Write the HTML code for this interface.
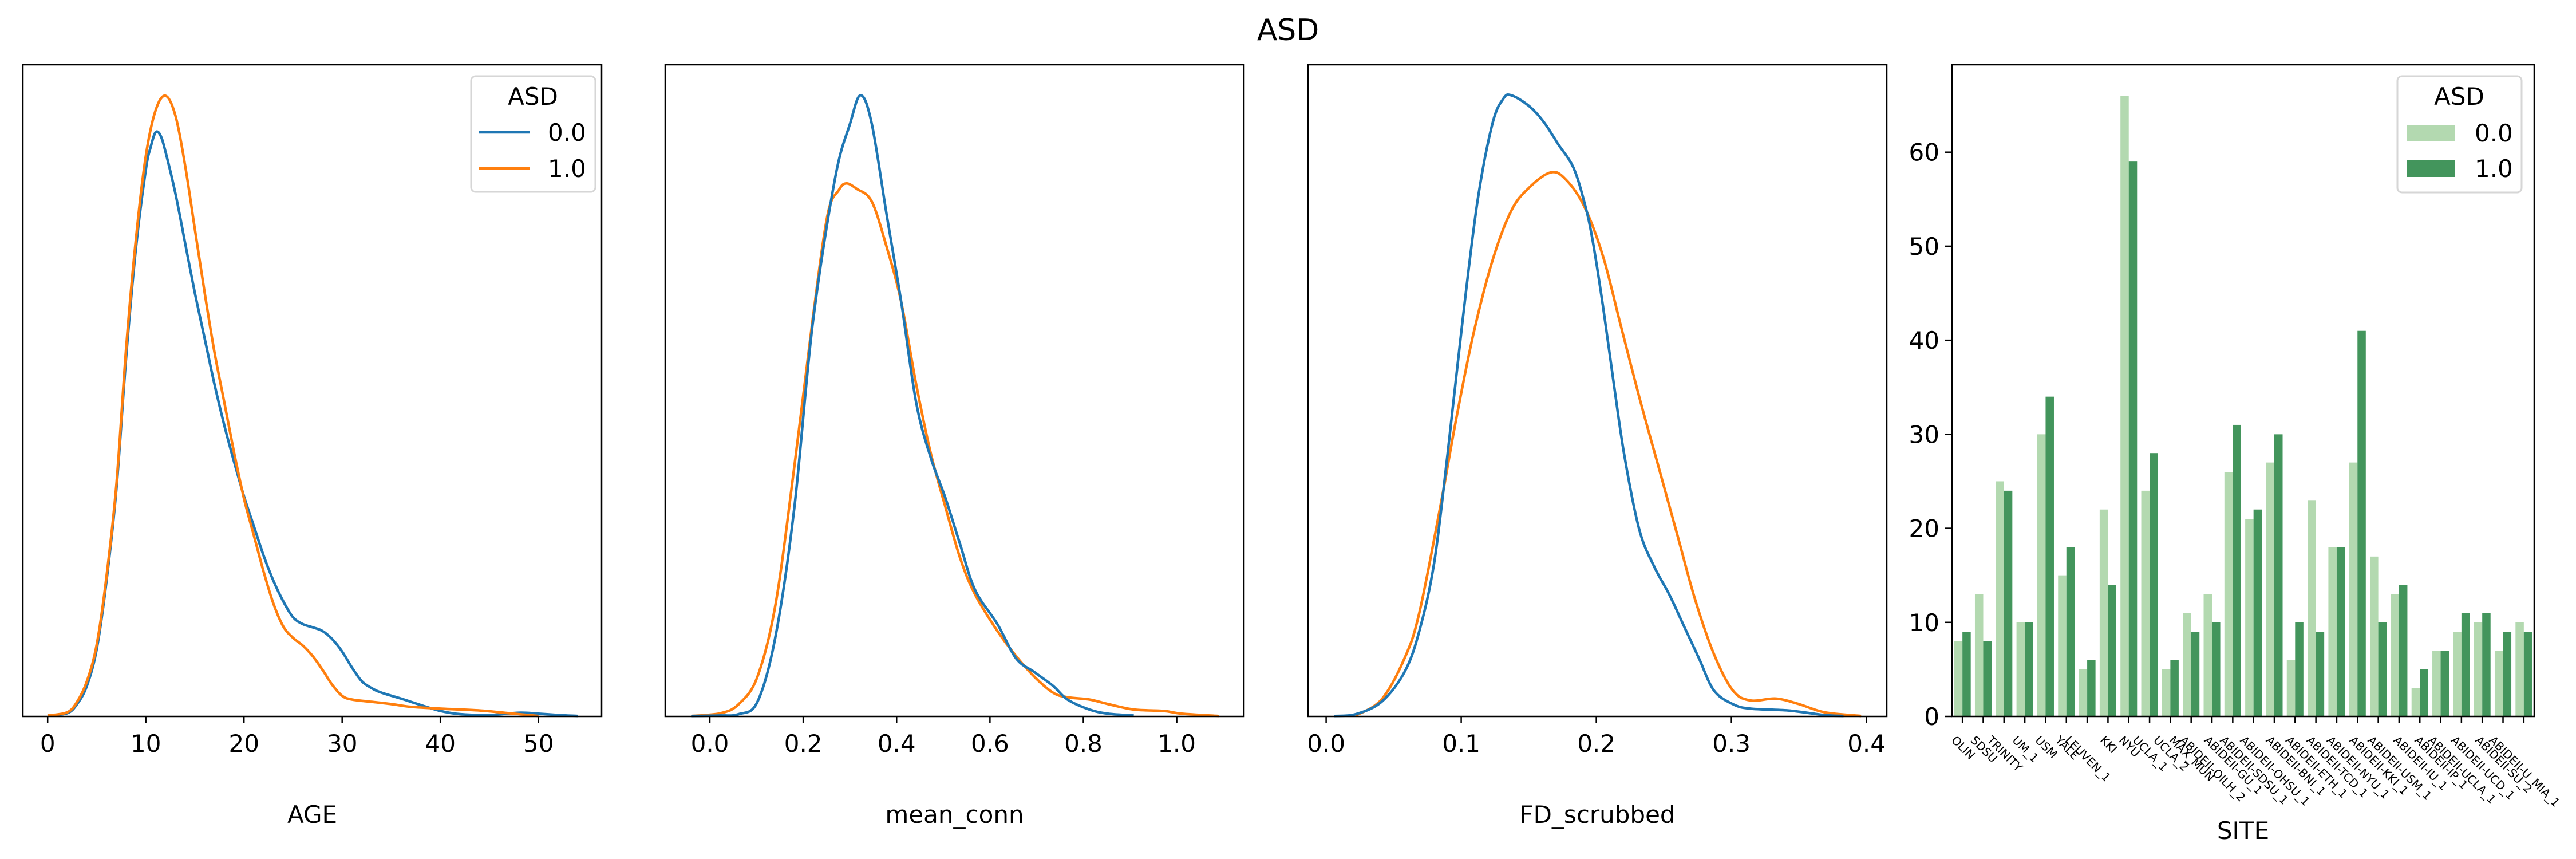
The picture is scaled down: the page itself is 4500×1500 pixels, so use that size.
<!DOCTYPE html>
<html><head><meta charset="utf-8">
<style>
html,body{margin:0;padding:0;background:#fff;}
svg{display:block;font-family:"DejaVu Sans","Liberation Sans",sans-serif;}
</style></head>
<body>
<svg id="fig" width="4500" height="1500" viewBox="0 0 4500 1500" xmlns="http://www.w3.org/2000/svg">
<rect width="4500" height="1500" fill="#fff"/>
<text x="2250" y="70" font-size="52" text-anchor="middle">ASD</text>
<g id="p1"></g>
<g id="p2"></g>
<g id="p3"></g>
<g id="p4"></g>
</svg>
<script>
// ---- data: AGE KDE (relative density) ----
const ageX0 = [0,2,3,4,5,6,7,8,9,10,10.5,11,11.5,12,13,14,15,16,17,18,19,20,21,22,23,24,25,26,27,28,29,30,31,32,33,34,36,38,40,42,45,48,50,52,54];
const ageY0 = [2,7,27,67,147,297,497,787,1027,1197,1247,1279,1272,1237,1147,1037,927,827,727,637,557,482,417,352,297,252,217,202,195,187,169,142,107,77,62,52,39,25,12,5,3,8,6,3,1];
const ageX1 = [0,2,3,4,5,6,7,8,9,10,11,12,13,14,15,16,17,18,19,20,21,22,23,24,25,26,27,28,29,30,31,33,35,37,40,44,47,50];
const ageY1 = [2,9,32,77,157,307,507,807,1047,1227,1327,1359,1317,1207,1067,927,797,687,577,477,397,317,247,197,172,155,132,102,69,45,37,32,27,21,17,13,7,1];
// ---- data: mean_conn KDE ----
const mcX0 = [-0.04,0.02,0.062,0.102,0.141,0.181,0.22,0.268,0.3,0.323,0.347,0.379,0.41,0.442,0.473,0.505,0.536,0.568,0.616,0.656,0.695,0.735,0.766,0.813,0.853,0.908];
const mcY0 = [1,2,5,32,177,457,857,1177,1297,1360,1297,1097,907,687,567,477,377,277,202,127,97,67,37,15,6,2];
const mcX1 = [-0.04,0.023,0.062,0.102,0.141,0.181,0.22,0.252,0.276,0.292,0.315,0.347,0.379,0.41,0.442,0.473,0.505,0.536,0.568,0.616,0.656,0.695,0.735,0.766,0.813,0.853,0.908,0.972,1.011,1.09];
const mcY1 = [1,7,27,87,247,547,867,1097,1152,1167,1155,1127,1027,907,727,577,457,347,267,187,132,87,52,42,37,27,15,12,6,1];
// ---- data: FD_scrubbed KDE ----
const fdX0 = [0.006,0.022,0.041,0.058,0.069,0.08,0.09,0.101,0.112,0.123,0.131,0.137,0.15,0.161,0.172,0.183,0.191,0.197,0.205,0.213,0.221,0.232,0.243,0.254,0.265,0.276,0.287,0.301,0.314,0.342,0.369,0.383];
const fdY0 = [1,5,32,97,187,337,577,867,1127,1297,1352,1360,1337,1302,1252,1202,1127,1047,897,727,567,407,327,267,197,127,57,27,17,13,3,1];
const fdX1 = [0.022,0.041,0.058,0.069,0.085,0.096,0.109,0.123,0.137,0.15,0.166,0.177,0.191,0.205,0.218,0.232,0.246,0.26,0.273,0.287,0.301,0.314,0.333,0.35,0.369,0.396];
const fdY1 = [2,37,127,227,467,647,837,997,1107,1157,1191,1177,1117,1007,857,697,547,397,257,137,57,35,39,27,9,1];
// ---- data: SITE counts ----
const sites = ["OLIN","SDSU","TRINITY","UM_1","USM","YALE","LEUVEN_1","KKI","NYU","UCLA_1","UCLA_2","MAX_MUN","ABIDEII-OILH_2","ABIDEII-GU_1","ABIDEII-SDSU_1","ABIDEII-OHSU_1","ABIDEII-BNI_1","ABIDEII-ETH_1","ABIDEII-TCD_1","ABIDEII-NYU_1","ABIDEII-KKI_1","ABIDEII-USM_1","ABIDEII-IU_1","ABIDEII-IP_1","ABIDEII-UCLA_1","ABIDEII-UCD_1","ABIDEII-SU_2","ABIDEII-U_MIA_1"];
const countsASD0 = [8,13,25,10,30,15,5,22,66,24,5,11,13,26,21,27,6,23,18,27,17,13,3,7,9,10,7,10];
const countsASD1 = [9,8,24,10,34,18,6,14,59,28,6,9,10,31,22,30,10,9,18,41,10,14,5,7,11,11,9,9];
const yTicksBar = [0,10,20,30,40,50,60];
const ageTicks = [0,10,20,30,40,50];
const mcTicks = ["0.0","0.2","0.4","0.6","0.8","1.0"];
const fdTicks = ["0.0","0.1","0.2","0.3","0.4"];

const NS="http://www.w3.org/2000/svg";
const TOP=113, BOT=1251, FS=42;
function mk(tag, attrs, parent){const e=document.createElementNS(NS,tag);for(const k in attrs)e.setAttribute(k,attrs[k]);parent.appendChild(e);return e;}
function smoothPath(pts){
  let d="M"+pts[0][0].toFixed(1)+","+pts[0][1].toFixed(1);
  for(let i=0;i<pts.length-1;i++){
    const p0=pts[i-1]||pts[i],p1=pts[i],p2=pts[i+1],p3=pts[i+2]||p2;
    const c1=[p1[0]+(p2[0]-p0[0])/6,p1[1]+(p2[1]-p0[1])/6];
    const c2=[p2[0]-(p3[0]-p1[0])/6,p2[1]-(p3[1]-p1[1])/6];
    d+="C"+c1.map(v=>v.toFixed(1))+" "+c2.map(v=>v.toFixed(1))+" "+p2[0].toFixed(1)+","+p2[1].toFixed(1);
  }
  return d;
}
function kdePanel(g,L,R,x0px,pxPerUnit,ticks,label,series,legend){
  const xs=v=>x0px+v*pxPerUnit;
  const ys=v=>BOT-v/1427*(BOT-TOP);
  ticks.forEach(t=>{
    const x=xs(parseFloat(t));
    const tk=mk("line",{x1:x,x2:x,y1:BOT,y2:BOT+12,stroke:"#000","stroke-width":2.5},g);
    
    
    const tl=mk("text",{x:x,y:BOT+62,"font-size":FS,"text-anchor":"middle"},g);
    tl.textContent=t;
    
    
  });
  const xl=mk("text",{x:(L+R)/2,y:1437,"font-size":FS,"text-anchor":"middle"},g);
  xl.textContent=label;
  
  
  series.forEach(s=>{
    const pts=s.x.map((v,i)=>[xs(v),ys(s.y[i])]);
    const p=mk("path",{d:smoothPath(pts),fill:"none",stroke:s.c,"stroke-width":4.5,"stroke-linejoin":"round"},g);
    
    
  });
  const fr=mk("rect",{x:L,y:TOP,width:R-L,height:BOT-TOP,fill:"none",stroke:"#000","stroke-width":2.5},g);
  
  
  if(legend){
    const lg=mk("g",{},g);
    
    
    mk("rect",{x:823,y:133,width:217,height:202,rx:8,fill:"#fff","fill-opacity":0.8,stroke:"#d6d6d6","stroke-width":3},lg);
    const t=mk("text",{x:931,y:183,"font-size":FS,"text-anchor":"middle"},lg);t.textContent="ASD";
    [["0.0","#1f77b4",231],["1.0","#ff7f0e",294]].forEach(([n,c,y])=>{
      const ln=mk("line",{x1:837,x2:925,y1:y,y2:y,stroke:c,"stroke-width":4.5},lg);
      
      
      const tx=mk("text",{x:957,y:y+15,"font-size":FS},lg);tx.textContent=n;
      
      
    });
  }
}
kdePanel(document.getElementById("p1"),40,1051,83.2,17.15,ageTicks.map(String),"AGE",
  [{x:ageX0,y:ageY0,c:"#1f77b4",name:"age-asd0-curve"},{x:ageX1,y:ageY1,c:"#ff7f0e",name:"age-asd1-curve"}],true);
kdePanel(document.getElementById("p2"),1162,2173,1240,815.6,mcTicks,"mean_conn",
  [{x:mcX1,y:mcY1,c:"#ff7f0e",name:"mean-conn-asd1-curve"},{x:mcX0,y:mcY0,c:"#1f77b4",name:"mean-conn-asd0-curve"}],false);
kdePanel(document.getElementById("p3"),2285,3296,2316.6,2360,fdTicks,"FD_scrubbed",
  [{x:fdX1,y:fdY1,c:"#ff7f0e",name:"fd-asd1-curve"},{x:fdX0,y:fdY0,c:"#1f77b4",name:"fd-asd0-curve"}],false);

// ---- bar panel ----
(function(){
  const g=document.getElementById("p4");
  const L=3410,R=4427,n=sites.length,step=(R-L)/n;
  const xs=i=>L+(i+0.5)*step;
  const ymax=69.3;
  const ys=v=>BOT-v/ymax*(BOT-TOP);
  const bw=step*0.4;
  yTicksBar.forEach(t=>{
    const y=ys(t);
    const tk=mk("line",{x1:L-12,x2:L,y1:y,y2:y,stroke:"#000","stroke-width":2.5},g);
    
    
    const tl=mk("text",{x:L-22,y:y+15,"font-size":FS,"text-anchor":"end"},g);
    tl.textContent=t;
    
    
  });
  sites.forEach((s,i)=>{
    const b0=mk("rect",{x:xs(i)-bw,y:ys(countsASD0[i]),width:bw,height:BOT-ys(countsASD0[i]),fill:"#b3d9b0"},g);
    
    
    const b1=mk("rect",{x:xs(i),y:ys(countsASD1[i]),width:bw,height:BOT-ys(countsASD1[i]),fill:"#43955c"},g);
    
    
    const tk=mk("line",{x1:xs(i),x2:xs(i),y1:BOT,y2:BOT+12,stroke:"#000","stroke-width":2.5},g);
    
    
    const tl=mk("text",{x:0,y:0,"font-size":20,"dominant-baseline":"hanging"},g);
    tl.textContent=s;
    
    
    const len=tl.getComputedTextLength();
    const x0=xs(i)-(len-20)*0.3535;
    tl.setAttribute("transform","translate("+x0.toFixed(1)+",1283) rotate(45)");
  });
  const fr=mk("rect",{x:L,y:TOP,width:R-L,height:BOT-TOP,fill:"none",stroke:"#000","stroke-width":2.5},g);
  
  
  const xl=mk("text",{x:(L+R)/2,y:1465,"font-size":FS,"text-anchor":"middle"},g);
  xl.textContent="SITE";
  
  
  const lg=mk("g",{},g);
  
  
  mk("rect",{x:4188,y:133,width:217,height:203,rx:8,fill:"#fff","fill-opacity":0.8,stroke:"#d6d6d6","stroke-width":3},lg);
  const t=mk("text",{x:4296,y:183,"font-size":FS,"text-anchor":"middle"},lg);t.textContent="ASD";
  [["0.0","#b3d9b0",232],["1.0","#43955c",294]].forEach(([nm,c,y])=>{
    const r=mk("rect",{x:4205,y:y-14,width:84,height:29,fill:c},lg);
    
    
    const tx=mk("text",{x:4323,y:y+15,"font-size":FS},lg);tx.textContent=nm;
    
    
  });
})();
</script>
</body></html>
